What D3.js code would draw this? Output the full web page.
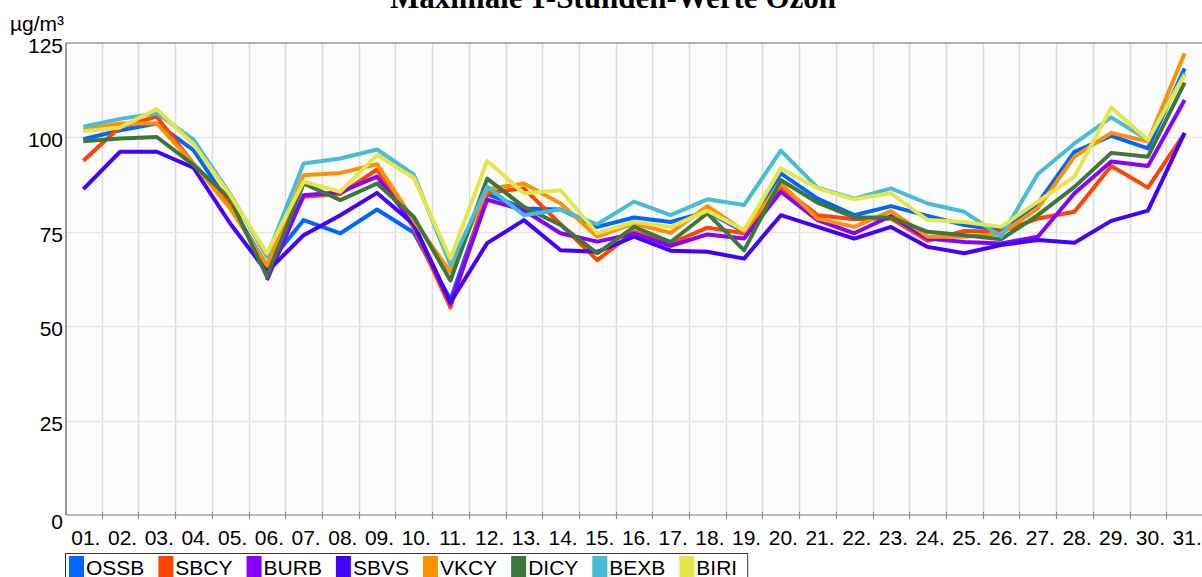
<!DOCTYPE html>
<html>
<head>
<meta charset="utf-8">
<script src="https://cdn.jsdelivr.net/npm/d3@7/dist/d3.min.js"></script>
<style>
  body { margin: 0; background: #fff; }
  svg { display: block; font-family: "Liberation Sans", Arial, sans-serif; }
</style>
</head>
<body>
<div id="viz"></div>
<script>
const width = 1202
const height = 577
const margin = {top: 43, bottom: 62, right: 0, left: 66}

// data: max 1-hour ozone per day
const days = d3.range(1, 32).map(d => (d < 10 ? "0" + d : "" + d) + ".")
const stations = ["OSSB", "SBCY", "BURB", "SBVS", "VKCY", "DICY", "BEXB", "BIRI"]
const colors = ["#0066ff", "#ff4400", "#8800ff", "#4400ff", "#ff9100", "#3c783c", "#48bcd6", "#e6e64a"]
const yTicks = [0, 25, 50, 75, 100, 125]

const OSSB = [99.5, 101.9, 103.7, 96.6, 82.1, 66, 78.1, 74.6, 80.9, 74.8, 57, 85, 81.2, 80.9, 76.3, 78.8, 77.6, 80.3, 75, 90.5, 83.8, 79.4, 81.8, 79.2, 76.8, 75.4, 82.5, 96.2, 100.4, 97.1, 118.3]
const SBCY = [93.8, 102.8, 105.5, 93, 82.5, 65, 84.3, 85, 91.5, 76, 55, 85.3, 86.5, 77, 67.5, 75, 71.9, 76.1, 74.6, 86.9, 79.4, 78.3, 78.5, 72.6, 75.2, 75, 78.5, 80.3, 92.4, 86.7, 101.1]
const BURB = [null, null, null, null, null, 62.2, 84.7, 85.5, 89.6, 77, 56, 83.5, 80.7, 74.6, 72.4, 74.5, 71.3, 74.3, 73.2, 85.6, 78.1, 74.6, 79.2, 73.2, 72.3, 71.9, 73.7, 85.2, 93.6, 92.4, 109.9]
const SBVS = [86.3, 96.2, 96.2, 92, 77.2, 64.4, 74.1, 79.4, 85.3, 77, 56.3, 72, 78.1, 70.1, 69.7, 73.7, 70, 69.7, 67.9, 79.4, 76.3, 73.2, 76.3, 71, 69.3, 71.5, 72.8, 72.1, 77.9, 80.6, 101.2]
const VKCY = [102, 103.7, 103.7, 93, 81.2, 66.2, 90, 90.6, 92.9, 78, 64.4, 86.3, 87.8, 82.5, 73.7, 77.2, 74.7, 81.8, 75.2, 87.8, 78.5, 76.3, 80.5, 73.7, 73.7, 74.5, 81.2, 94.9, 101.2, 98.9, 122.3]
const DICY = [99, 99.7, 100.1, 92.7, 83.8, 63.1, 87.8, 83.4, 87.8, 79, 62.1, 89.1, 81.6, 76.8, 69.3, 76.3, 72.3, 79.9, 70.1, 88.7, 82.7, 78.8, 78.8, 75, 74.1, 73, 79.4, 86.9, 95.9, 94.9, 114.5]
const BEXB = [102.8, 104.9, 106.4, 99.4, 85, 68.4, 93.1, 94.4, 96.8, 90.2, 66.2, 87, 79.4, 80.9, 77, 83, 79.4, 83.6, 82.1, 96.5, 86.7, 83.8, 86.5, 82.5, 80.3, 73.7, 90.3, 98.4, 105.3, 99.3, 117]
const BIRI = [101.6, 102.6, 107.5, 98.2, 84.7, 69.3, 88.3, 85.6, 95.3, 89.3, 67.9, 93.8, 85.2, 86, 74.6, 77.6, 76.3, 80.6, 75.4, 91.8, 86.5, 83.6, 85.2, 78.1, 77.6, 76.3, 83, 89.6, 107.9, 99.3, 116.5]

const seriesValues = [OSSB, SBCY, BURB, SBVS, VKCY, DICY, BEXB, BIRI]

const svg = d3.select("#viz").append("svg")
  .attr("width", width)
  .attr("height", height)

const xBand = d3.scaleBand().domain(days).range([65, 1203])
const xScale = d3.scalePoint().domain(days).range([65, 1203]).padding(0.5)
const yScale = d3.scaleLinear().domain([0, 125]).range([height - margin.bottom, margin.top])
const bottom = yScale(0)

// plot background
svg.append("rect")
  .attr("x", margin.left).attr("y", margin.top)
  .attr("width", width - margin.left).attr("height", bottom - margin.top)
  .attr("fill", "#fcfcfc")

// vertical grid at band edges
svg.append("g").selectAll("line")
  .data(days.slice(1))
  .enter().append("line")
  .attr("x1", d => Math.round(xBand(d)) + 0.5)
  .attr("x2", d => Math.round(xBand(d)) + 0.5)
  .attr("y1", margin.top)
  .attr("y2", bottom + 4)
  .attr("stroke", "#dcdcdc")
  .attr("stroke-width", 1.5)

// horizontal grid
svg.append("g").selectAll("line")
  .data(yTicks.slice(1, -1))
  .enter().append("line")
  .attr("x1", margin.left)
  .attr("x2", width)
  .attr("y1", d => Math.round(yScale(d)) + 0.5)
  .attr("y2", d => Math.round(yScale(d)) + 0.5)
  .attr("stroke", "#e6e6e6")
  .attr("stroke-width", 1.5)

// top border
svg.append("line")
  .attr("x1", margin.left).attr("x2", width)
  .attr("y1", margin.top).attr("y2", margin.top)
  .attr("stroke", "#999").attr("stroke-width", 1.5)

// x axis
const xAxisG = svg.append("g")
  .attr("transform", "translate(0," + bottom + ")")
xAxisG.append("line")
  .attr("x1", margin.left).attr("x2", width)
  .attr("stroke", "#777").attr("stroke-width", 1.2)
xAxisG.selectAll(".tick-mark")
  .data(days.slice(1))
  .enter().append("line")
  .attr("class", "tick-mark")
  .attr("x1", d => Math.round(xBand(d)) + 0.5)
  .attr("x2", d => Math.round(xBand(d)) + 0.5)
  .attr("y1", -3).attr("y2", 4)
  .attr("stroke", "#888")
xAxisG.selectAll("text")
  .data(days)
  .enter().append("text")
  .attr("x", d => xScale(d) + 2.5)
  .attr("y", 30)
  .attr("text-anchor", "middle")
  .attr("font-size", "21px")
  .attr("fill", "#000")
  .text(d => d)

// y axis
svg.append("line")
  .attr("x1", margin.left).attr("x2", margin.left)
  .attr("y1", margin.top).attr("y2", bottom)
  .attr("stroke", "#555").attr("stroke-width", 1.2)
svg.append("g").selectAll("text")
  .data(yTicks)
  .enter().append("text")
  .attr("x", 63)
  .attr("y", d => yScale(d) + (d === 0 ? 14 : 10))
  .attr("text-anchor", "end")
  .attr("font-size", "21px")
  .text(d => d)

// unit label
svg.append("text")
  .attr("x", 10).attr("y", 31)
  .attr("font-size", "21px")
  .text("µg/m³")

// title (partly off the top edge, as in the source)
svg.append("text")
  .attr("x", 613).attr("y", 8)
  .attr("text-anchor", "middle")
  .attr("font-family", "'Liberation Serif', 'Times New Roman', serif")
  .attr("font-weight", "bold")
  .attr("font-size", "31px")
  .text("Maximale 1-Stunden-Werte Ozon")

// lines
const line = d3.line()
  .defined(d => d.v !== null)
  .x(d => xScale(d.day))
  .y(d => yScale(d.v))

stations.forEach((s, i) => {
  const pts = days.map((day, j) => ({day: day, v: seriesValues[i][j]}))
  svg.append("path")
    .datum(pts)
    .attr("class", "series " + s)
    .attr("fill", "none")
    .attr("stroke", colors[i])
    .attr("stroke-width", 4)
    .attr("stroke-linejoin", "round")
    .attr("d", line)
})

// legend
const legend = svg.append("g")
const legendBox = legend.append("rect")
  .attr("x", 65.5).attr("y", 553.5)
  .attr("height", 40)
  .attr("fill", "#fff")
  .attr("stroke", "#333")
let lx = 69
stations.forEach((s, i) => {
  legend.append("rect")
    .attr("x", lx).attr("y", 556)
    .attr("width", 15).attr("height", 30)
    .attr("fill", colors[i])
  const t = legend.append("text")
    .attr("x", lx + 17).attr("y", 575)
    .attr("font-size", "21px")
    .text(s)
  lx += 17 + t.node().getComputedTextLength() + 14
})
legendBox.attr("width", lx - 65 - 4)
</script>
</body>
</html>
